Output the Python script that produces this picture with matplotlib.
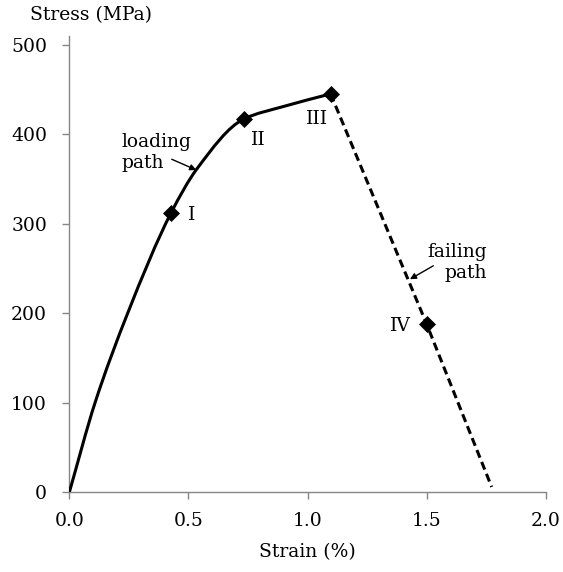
import matplotlib
matplotlib.use("Agg")
import matplotlib.pyplot as plt
from matplotlib.path import Path
from matplotlib.patches import PathPatch

plt.rcParams['font.family'] = ['DejaVu Serif']

# Loading path (solid, smoothed) and failing path (dashed)
loading_strain = [0.0, 0.108, 0.245, 0.427, 0.535, 0.733, 0.90, 1.097]
loading_stress = [0, 100, 200, 312, 361, 417, 431, 445]
failing_strain = [1.097, 1.500, 1.773]
failing_stress = [445, 188, 6]

# Marked states
point_strain = [0.427, 0.733, 1.097, 1.500]
point_stress = [312, 417, 445, 188]
point_labels = ['I', 'II', 'III', 'IV']
label_offsets = [(14.8, -1.2), (10.1, -15.1), (-9.5, -18.0), (-18.5, -1.4)]

x_ticks = [0.0, 0.5, 1.0, 1.5, 2.0]
x_ticklabels = ['0.0', '0.5', '1.0', '1.5', '2.0']
y_ticks = [0, 100, 200, 300, 400, 500]

FS = 13.5
AXIS_GREY = '#868686'


def smooth_path(xs, ys):
    """Monotone cubic (Fritsch-Carlson) curve through the points as Bezier segments."""
    n = len(xs)
    h = [xs[i + 1] - xs[i] for i in range(n - 1)]
    d = [(ys[i + 1] - ys[i]) / h[i] for i in range(n - 1)]
    m = [0.0] * n
    m[0] = d[0]
    m[-1] = d[-1]
    for i in range(1, n - 1):
        if d[i - 1] * d[i] <= 0:
            m[i] = 0.0
        else:
            w1 = 2 * h[i] + h[i - 1]
            w2 = h[i] + 2 * h[i - 1]
            m[i] = (w1 + w2) / (w1 / d[i - 1] + w2 / d[i])
    verts = [(xs[0], ys[0])]
    codes = [Path.MOVETO]
    for i in range(n - 1):
        c1 = (xs[i] + h[i] / 3, ys[i] + m[i] * h[i] / 3)
        c2 = (xs[i + 1] - h[i] / 3, ys[i + 1] - m[i + 1] * h[i] / 3)
        verts += [c1, c2, (xs[i + 1], ys[i + 1])]
        codes += [Path.CURVE4] * 3
    return Path(verts, codes)


fig = plt.figure(figsize=(5.63, 5.72), dpi=100)
ax = fig.add_axes([0.1231, 0.1393, 0.8462, 0.7983])

ax.add_patch(PathPatch(smooth_path(loading_strain, loading_stress),
                       facecolor='none', edgecolor='black', lw=2.2,
                       capstyle='butt', zorder=3))
ax.plot(failing_strain, failing_stress, color='black', lw=2.2,
        dashes=(2.7, 1.5), zorder=3)
ax.plot(point_strain, point_stress, linestyle='none', marker='D',
        ms=8.5, color='black', mew=0.5, zorder=4)

for x, y, lab, off in zip(point_strain, point_stress, point_labels, label_offsets):
    ax.annotate(lab, (x, y), xytext=off, textcoords='offset points',
                ha='center', va='center', fontsize=FS)

arrow_style = dict(arrowstyle='-|>', color='black', lw=1.0,
                   mutation_scale=9, shrinkA=0, shrinkB=0)

ax.text(0.220, 379.5, 'loading\npath', ha='left', va='center',
        fontsize=FS, linespacing=1.15)
ax.annotate('', xy=(0.533, 360), xytext=(0.430, 372),
            arrowprops=arrow_style)

ax.text(1.752, 256.7, 'failing\npath', ha='right', va='center',
        fontsize=FS, linespacing=1.15, multialignment='right')
ax.annotate('', xy=(1.430, 238), xytext=(1.528, 253),
            arrowprops=arrow_style)

ax.set_xlim(0, 2.0)
ax.set_ylim(0, 510)
ax.set_xticks(x_ticks)
ax.set_xticklabels(x_ticklabels)
ax.set_yticks(y_ticks)

for side in ('top', 'right'):
    ax.spines[side].set_visible(False)
for side in ('left', 'bottom'):
    ax.spines[side].set_color(AXIS_GREY)
    ax.spines[side].set_linewidth(1.0)
ax.tick_params(axis='both', direction='out', length=5, width=1.0,
               color=AXIS_GREY, labelsize=FS)
ax.tick_params(axis='x', pad=9)
ax.tick_params(axis='y', pad=11)

fig.text(91.5 / 563, 1 - 15 / 572, 'Stress (MPa)', ha='center', va='center',
         fontsize=FS)
fig.text(307.5 / 563, 1 - 552 / 572, 'Strain (%)', ha='center', va='center',
         fontsize=FS)

fig.savefig('out.png', dpi=100)
